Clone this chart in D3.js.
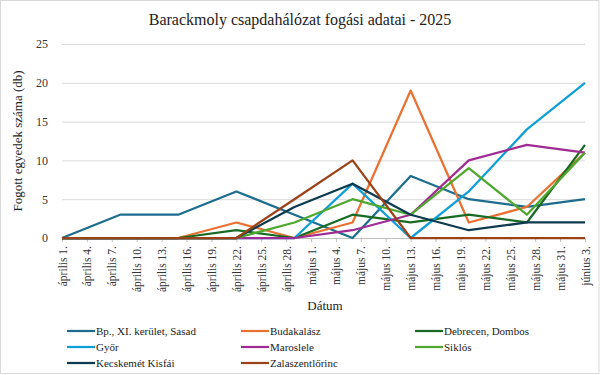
<!DOCTYPE html>
<html>
<head>
<meta charset="utf-8">
<script src="https://cdn.jsdelivr.net/npm/d3@7"></script>
<style>
  html, body { margin: 0; padding: 0; background: #fff; }
  svg { display: block; }
  svg text { font-family: "Liberation Serif", "Times New Roman", serif; }
</style>
</head>
<body>
<svg id="chart" width="600" height="375"></svg>
<script>
// weekly sampling dates (2025)
const sampleDates = ["2025-04-01", "2025-04-08", "2025-04-15", "2025-04-22", "2025-04-29",
                     "2025-05-06", "2025-05-13", "2025-05-20", "2025-05-27", "2025-06-03"];

const seriesNames = ["Bp., XI. kerület, Sasad", "Budakalász", "Debrecen, Dombos", "Győr",
                     "Maroslele", "Siklós", "Kecskemét Kisfái", "Zalaszentlőrinc"];

const sasad      = [0, 3, 3, 6, 3, 0, 8, 5, 4, 5];
const budakalasz = [0, 0, 0, 2, 0, 2, 19, 2, 4, 11];
const debrecen   = [0, 0, 0, 1, 0, 3, 2, 3, 2, 12];
const gyor       = [0, 0, 0, 0, 0, 7, 0, 6, 14, 20];
const maroslele  = [0, 0, 0, 0, 0, 1, 3, 10, 12, 11];
const siklos     = [0, 0, 0, 0, 2, 5, 3, 9, 3, 11];
const kecskemet  = [0, 0, 0, 0, 4, 7, 3, 1, 2, 2];
const zalaszent  = [0, 0, 0, 0, 5, 10, 0, 0, 0, 0];

const seriesColors = ["#1C6D8E", "#E97132", "#196B24", "#0F9ED5",
                      "#A02B93", "#4EA72E", "#0D3A4F", "#9C4219"];

const monthNames = ["január", "február", "március", "április", "május", "június"];
const yTicks = [0, 5, 10, 15, 20, 25];

const W = 600, H = 375;
const margin = { top: 44, right: 15, bottom: 137, left: 62 };
const innerW = W - margin.left - margin.right;
const innerH = H - margin.top - margin.bottom;
const FONT = '"Liberation Serif", "Times New Roman", serif';

const svg = d3.select('#chart');

// outer frame
svg.append('rect')
  .attr('x', 0.5).attr('y', 0.5)
  .attr('width', W - 1.5).attr('height', H - 2)
  .attr('fill', '#fff')
  .attr('stroke', '#d9d9d9');

const parse = d3.timeParse('%Y-%m-%d');
const dates = sampleDates.map(parse);
const allSeries = [sasad, budakalasz, debrecen, gyor, maroslele, siklos, kecskemet, zalaszent];

const x = d3.scaleTime()
  .domain([dates[0], dates[dates.length - 1]])
  .range([0, innerW]);

const y = d3.scaleLinear()
  .domain([0, 25])
  .range([innerH, 0]);

const g = svg.append('g').attr('transform', `translate(${margin.left},${margin.top})`);

// title
svg.append('text')
  .attr('x', 300).attr('y', 25)
  .attr('text-anchor', 'middle')
  .style('font-family', FONT)
  .style('font-size', '16px')
  .style('fill', '#222')
  .text('Barackmoly csapdahálózat fogási adatai - 2025');

// gridlines + y labels
const yAxis = g.append('g')
  .call(d3.axisLeft(y).tickValues(yTicks).tickSize(-innerW).tickPadding(14));
yAxis.select('.domain').remove();
yAxis.selectAll('.tick line').attr('stroke', '#d9d9d9');
yAxis.selectAll('.tick text')
  .style('font-family', FONT)
  .style('font-size', '12px')
  .style('fill', '#333');

// x axis: every 3rd day
const tickDates = d3.timeDay.range(dates[0], d3.timeDay.offset(dates[dates.length - 1], 1), 3);
const xAxis = g.append('g')
  .attr('transform', `translate(0,${innerH})`)
  .call(d3.axisBottom(x).tickValues(tickDates).tickSize(4)
    .tickFormat(d => `${monthNames[d.getMonth()]} ${d.getDate()}.`));
xAxis.select('.domain').attr('stroke', '#bfbfbf');
xAxis.selectAll('.tick line').attr('stroke', '#bfbfbf');
xAxis.selectAll('.tick text')
  .style('font-family', FONT)
  .style('font-size', '11.5px')
  .style('fill', '#333')
  .attr('text-anchor', 'end')
  .attr('transform', 'rotate(-90)')
  .attr('x', -8)
  .attr('y', 0)
  .attr('dy', '0.35em');

// axis titles
svg.append('text')
  .attr('x', 325).attr('y', 310)
  .attr('text-anchor', 'middle')
  .style('font-family', FONT)
  .style('font-size', '13px')
  .style('fill', '#222')
  .text('Dátum');

svg.append('text')
  .attr('transform', `translate(22,${margin.top + innerH / 2}) rotate(-90)`)
  .attr('text-anchor', 'middle')
  .style('font-family', FONT)
  .style('font-size', '13px')
  .style('fill', '#222')
  .text('Fogott egyedek száma (db)');

// lines
const line = d3.line()
  .x((d, i) => x(dates[i]))
  .y(d => y(d));

allSeries.forEach((vals, k) => {
  g.append('path')
    .datum(vals)
    .attr('fill', 'none')
    .attr('stroke', seriesColors[k])
    .attr('stroke-width', 2.25)
    .attr('stroke-linejoin', 'round')
    .attr('d', line);
});

// legend: 3 columns
const legendCols = [67, 241, 415];
const legendRows = [331, 347, 363];
seriesNames.forEach((name, k) => {
  const cx = legendCols[k % 3], cy = legendRows[Math.floor(k / 3)];
  const lg = svg.append('g').attr('transform', `translate(${cx},${cy})`);
  lg.append('line')
    .attr('x1', 0).attr('x2', 28).attr('y1', 0).attr('y2', 0)
    .attr('stroke', seriesColors[k])
    .attr('stroke-width', 2.25);
  lg.append('text')
    .attr('x', 29).attr('y', 0)
    .attr('dy', '0.35em')
    .style('font-family', FONT)
    .style('font-size', '11px')
    .style('fill', '#222')
    .text(name);
});
</script>
</body>
</html>
